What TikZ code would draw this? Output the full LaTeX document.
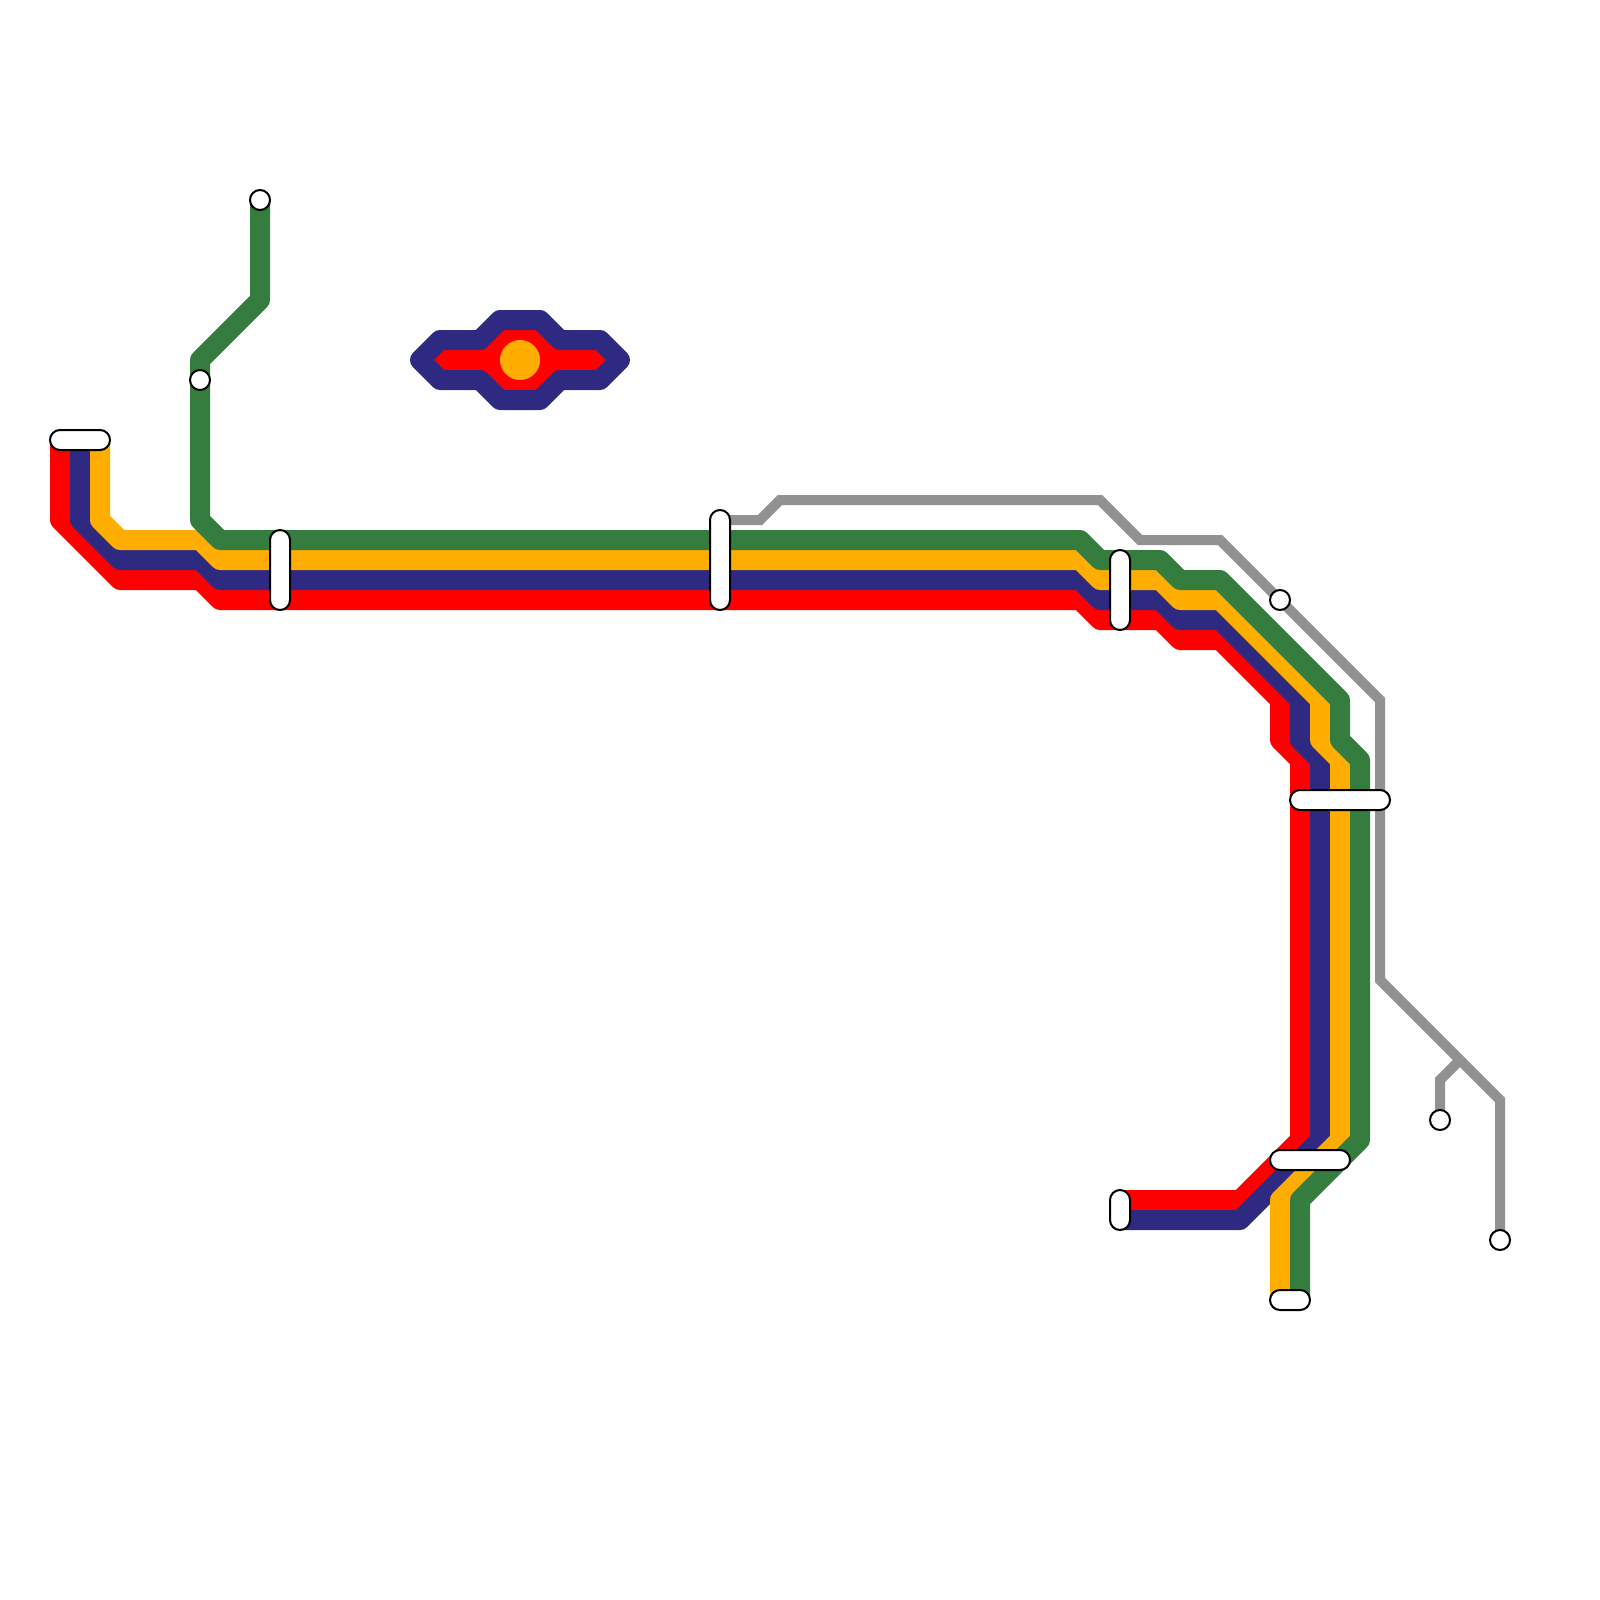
\documentclass[tikz,border=0pt]{standalone}
\usepackage{xcolor}
\usetikzlibrary{backgrounds}
\definecolor{lred}{HTML}{FF0000}
\definecolor{lnavy}{HTML}{2E2A82}
\definecolor{lorange}{HTML}{FFAD00}
\definecolor{lgreen}{HTML}{357C3F}
\definecolor{lgrey}{HTML}{919191}
\begin{document}
\begin{tikzpicture}[
  x=0.2mm, y=-0.2mm,
  route/.style={line width=4mm, line join=round},
  thin route/.style={draw=lgrey, line width=2mm, line join=miter},
  halt/.style={draw=black, fill=white, line width=0.4mm, inner sep=0pt, outer sep=0pt},
  dot/.style={halt, circle, minimum size=4mm},
  bar/.style={halt, rectangle, rounded corners=2mm, minimum width=#1, minimum height=4mm},
  pole/.style={halt, rectangle, rounded corners=2mm, minimum width=4mm, minimum height=#1}]
\useasboundingbox (0,0) rectangle (1600,1600);
% stations
\node[bar=12mm] (west) at (80,440) {};
\node[dot] (north) at (260,200) {};
\node[dot] (fork) at (200,380) {};
\node[pole=16mm] (stopa) at (280,570) {};
\node[pole=20mm] (stopb) at (720,560) {};
\node[pole=16mm] (stopc) at (1120,590) {};
\node[dot] (bend) at (1280,600) {};
\node[bar=20mm] (stopd) at (1340,800) {};
\node[bar=16mm] (stope) at (1310,1160) {};
\node[pole=8mm] (south) at (1120,1210) {};
\node[bar=8mm] (foot) at (1290,1300) {};
\node[dot] (greyb) at (1440,1120) {};
\node[dot] (greye) at (1500,1240) {};
% line ends beside the station centres
\coordinate (reda) at (60,440);
\coordinate (oranga) at (100,440);
\coordinate (redz) at (1120,1200);
\coordinate (navyz) at (1120,1220);
\coordinate (orangz) at (1280,1300);
\coordinate (greenz) at (1300,1300);
\coordinate (greya) at (720,520);
\coordinate (greyj) at (1460,1060);
\begin{scope}[on background layer]
% main lines
\draw[route, draw=lred] (reda) -- (60,520) -- (120,580) -- (200,580) -- (220,600)
  -- (1080,600) -- (1100,620) -- (1160,620) -- (1180,640) -- (1220,640) -- (1280,700)
  -- (1280,740) -- (1300,760) -- (1300,1140) -- (1240,1200) -- (redz);
\draw[route, draw=lnavy] (west.center) -- (80,520) -- (120,560) -- (200,560) -- (220,580)
  -- (1080,580) -- (1100,600) -- (1160,600) -- (1180,620) -- (1220,620) -- (1300,700)
  -- (1300,740) -- (1320,760) -- (1320,1140) -- (1240,1220) -- (navyz);
\draw[route, draw=lorange] (oranga) -- (100,520) -- (120,540) -- (200,540) -- (220,560)
  -- (1080,560) -- (1100,580) -- (1160,580) -- (1180,600) -- (1220,600) -- (1320,700)
  -- (1320,740) -- (1340,760) -- (1340,1140) -- (1280,1200) -- (orangz);
\draw[route, draw=lgreen] (north.center) -- (260,300) -- (200,360) -- (200,520) -- (220,540)
  -- (1080,540) -- (1100,560) -- (1160,560) -- (1180,580) -- (1220,580) -- (1340,700)
  -- (1340,740) -- (1360,760) -- (1360,1140) -- (1300,1200) -- (greenz);
% grey line and its branch
\draw[thin route] (greya) -- (760,520) -- (780,500) -- (1100,500) -- (1140,540) -- (1220,540)
  -- (bend.center) -- (1380,700) -- (1380,980) -- (greyj) -- (1500,1100) -- (greye.center);
\draw[thin route] (greyb.center) -- (1440,1080) -- (greyj);
% loop with the orange dot
\path[route, draw=lnavy, fill=lred] (420,360) -- (440,340) -- (480,340) -- (500,320)
  -- (540,320) -- (560,340) -- (600,340) -- (620,360) -- (600,380) -- (560,380)
  -- (540,400) -- (500,400) -- (480,380) -- (440,380) -- cycle;
\fill[lorange] (520,360) circle (4mm);
\end{scope}
\end{tikzpicture}
\end{document}
